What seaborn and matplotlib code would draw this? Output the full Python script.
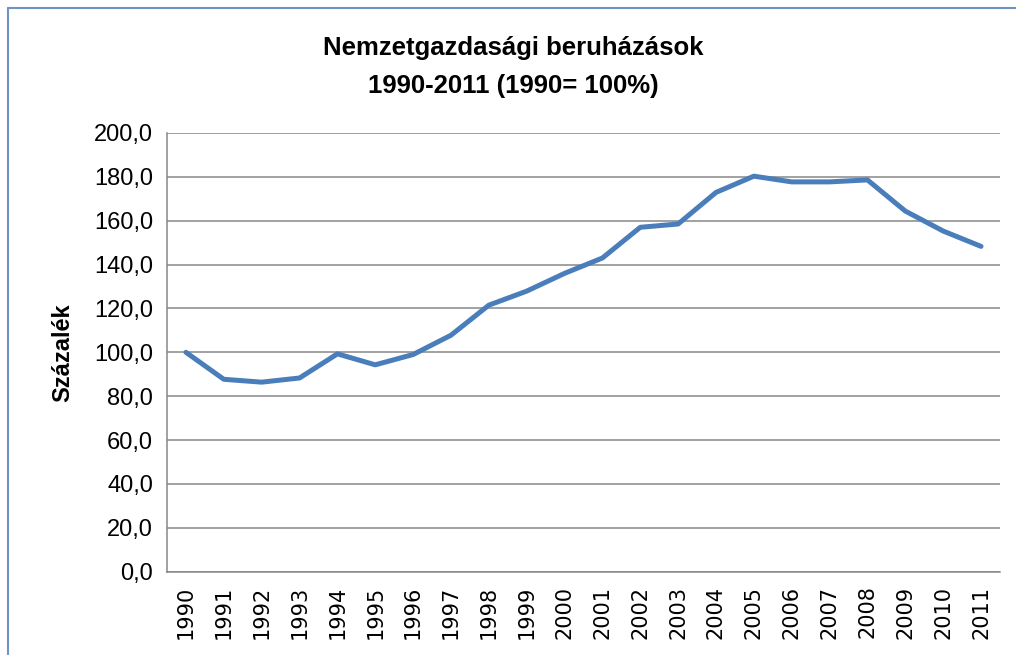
import matplotlib
matplotlib.use('Agg')
import matplotlib.pyplot as plt
import seaborn as sns
import pandas as pd
from matplotlib.lines import Line2D
from matplotlib.ticker import FuncFormatter

YEARS = [str(y) for y in range(1990, 2012)]
VALUES = [100.0, 87.7, 86.4, 88.3, 99.3, 94.3, 99.0, 107.8, 121.5, 127.9, 136.0,
          143.0, 157.0, 158.5, 172.9, 180.3, 177.7, 177.7, 178.6, 164.4, 155.3, 148.3]
TITLE = 'Nemzetgazdasági beruházások\n1990-2011 (1990= 100%)'
Y_LABEL = 'Százalék'
Y_TICKS = list(range(0, 201, 20))

sns.set_theme(style='white')
plt.rcParams['font.family'] = ['Liberation Sans', 'DejaVu Sans']
plt.rcParams['text.color'] = 'black'
plt.rcParams['axes.labelcolor'] = 'black'

df = pd.DataFrame({'year': YEARS, 'value': VALUES})

fig = plt.figure(figsize=(10.16, 6.55), dpi=100)
ax = fig.add_axes([0.1644, 0.1272, 0.8198, 0.6698])

sns.lineplot(data=df, x='year', y='value', ax=ax, color='#4a7ebb', linewidth=3.6, sort=False)

ax.set_xlim(-0.5, len(YEARS) - 0.5)
ax.set_ylim(0, 200)
ax.set_yticks(Y_TICKS)
ax.yaxis.set_major_formatter(FuncFormatter(lambda v, p: f'{v:.1f}'.replace('.', ',')))
ax.grid(axis='y', color='#878787', linewidth=1.1)
ax.grid(axis='x', visible=False)
ax.set_axisbelow(True)

for side in ['top', 'right']:
    ax.spines[side].set_visible(False)
for side in ['left', 'bottom']:
    ax.spines[side].set_color('#878787')
    ax.spines[side].set_linewidth(1.1)

ax.tick_params(axis='y', length=0, pad=10, labelsize=17, colors='black')
ax.tick_params(axis='x', length=0, pad=10, colors='black')
for lbl in ax.get_xticklabels():
    lbl.set_rotation(90)
    lbl.set_family('DejaVu Sans')
    lbl.set_fontsize(15)

ax.set_xlabel('')
ax.set_ylabel(Y_LABEL, fontsize=17, fontweight='bold', labelpad=14)
fig.suptitle(TITLE, x=0.505, y=0.945, fontsize=18.5, fontweight='bold', linespacing=1.75)

# chart frame (blue border, left and top visible)
fig.add_artist(Line2D([0.0074, 0.0074], [0.0, 0.988], transform=fig.transFigure, color='#6f93c9', linewidth=1.5))
fig.add_artist(Line2D([0.0074, 1.0], [0.988, 0.988], transform=fig.transFigure, color='#6f93c9', linewidth=1.5))

fig.savefig('out.png', dpi=100)
